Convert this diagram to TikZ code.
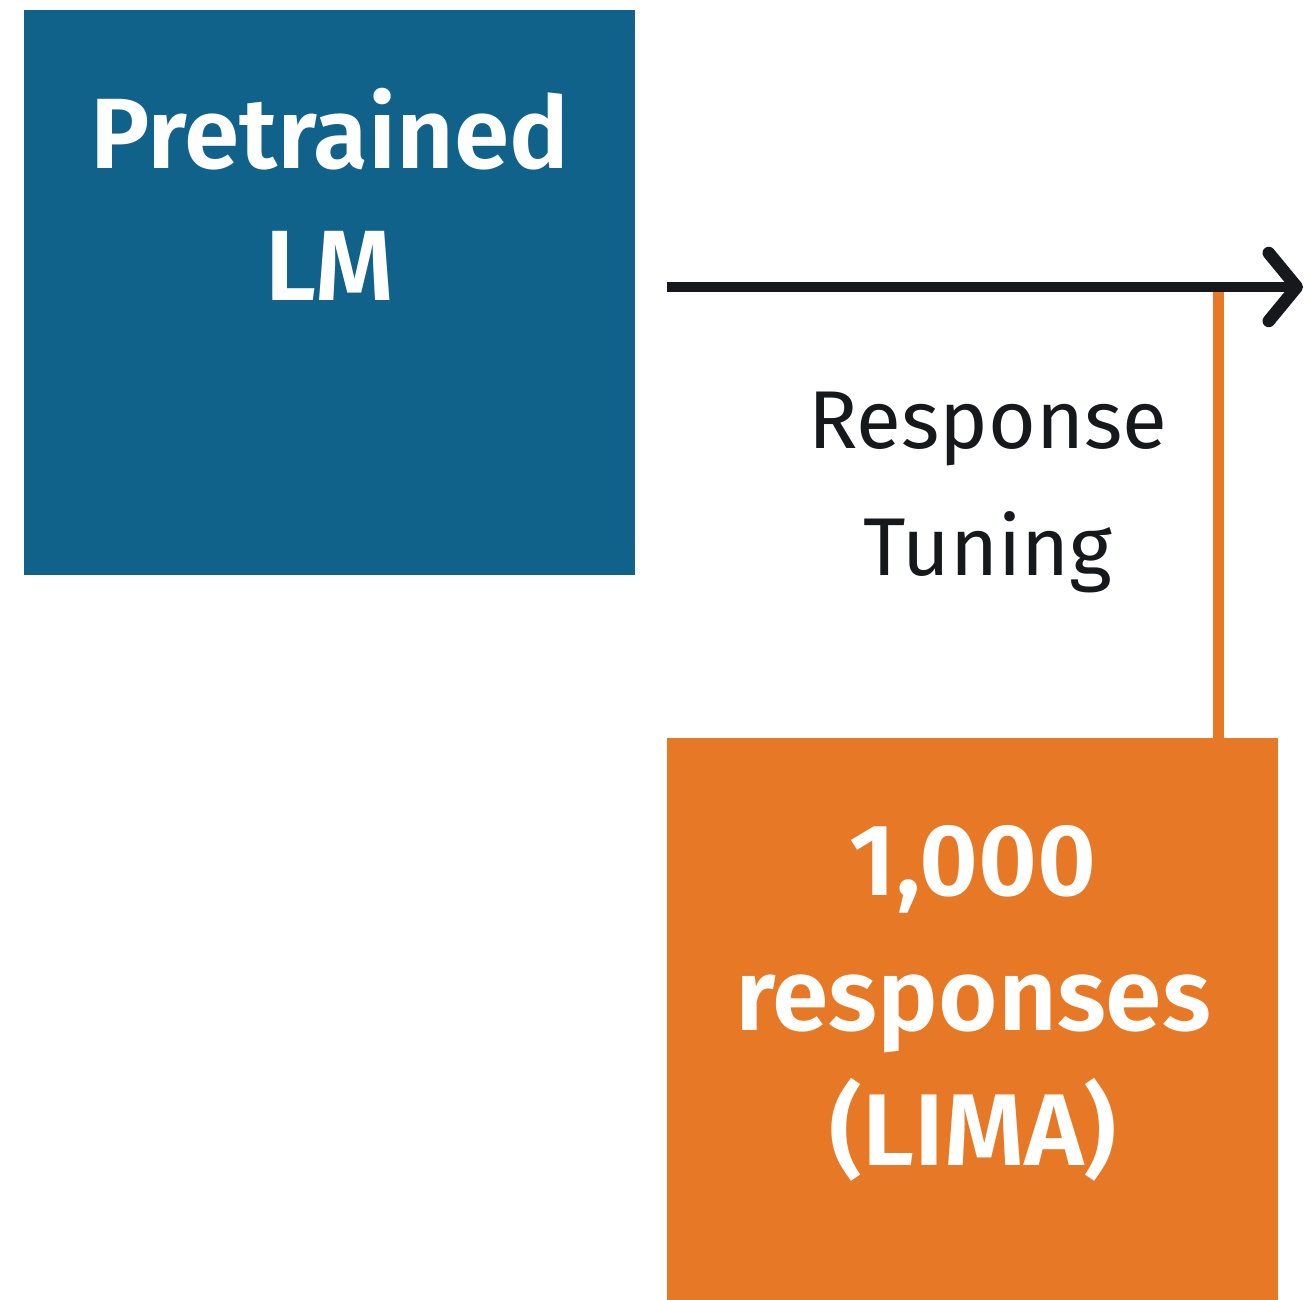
\documentclass[tikz,border=0pt]{standalone}
\usepackage{fontspec}
\setmainfont{Fira Sans}[BoldFont={Fira Sans SemiBold}]
\usetikzlibrary{arrows.meta}
\definecolor{lmblue}{HTML}{10628A}
\definecolor{limaorange}{HTML}{E67826}
\definecolor{inkblack}{HTML}{17181C}
\tikzset{
  boxtext/.style={text=white, align=center, anchor=base, inner sep=0pt},
  steptext/.style={text=inkblack, align=center, anchor=base, inner sep=0pt},
  flow/.style={draw=inkblack, line width=5pt,
    -{Straight Barb[length=14pt, width=34pt, line width=0pt 1.25, round]}},
  feed/.style={draw=limaorange, line width=5.5pt}
}
\begin{document}
\begin{tikzpicture}[x=0.5pt, y=-0.5pt]
  \useasboundingbox (0,0) rectangle (1306,1300);
  % base model box (anchored at the baseline of the last line)
  \fill[lmblue] (24,10) rectangle (635,575);
  \node[boxtext, font=\bfseries\fontsize{50pt}{66pt}\selectfont] (lm) at (330,300) {Pretrained\\LM};
  % data box
  \fill[limaorange] (667,738) rectangle (1278,1300);
  \node[boxtext, font=\bfseries\fontsize{51pt}{67.5pt}\selectfont] (data) at (973,1165) {1,000\\responses\\(LIMA)};
  % connectors
  \coordinate (start) at (667,287);
  \coordinate (finish) at (1303,287);
  \coordinate (join) at (1218,287);
  \coordinate (datatop) at (1218,738);
  \draw[feed] (datatop) -- (join);
  \draw[flow] (start) -- (finish);
  % label
  \node[steptext, font=\fontsize{41pt}{63.5pt}\selectfont] (tuning) at (988,575) {Response\\Tuning};
\end{tikzpicture}
\end{document}
